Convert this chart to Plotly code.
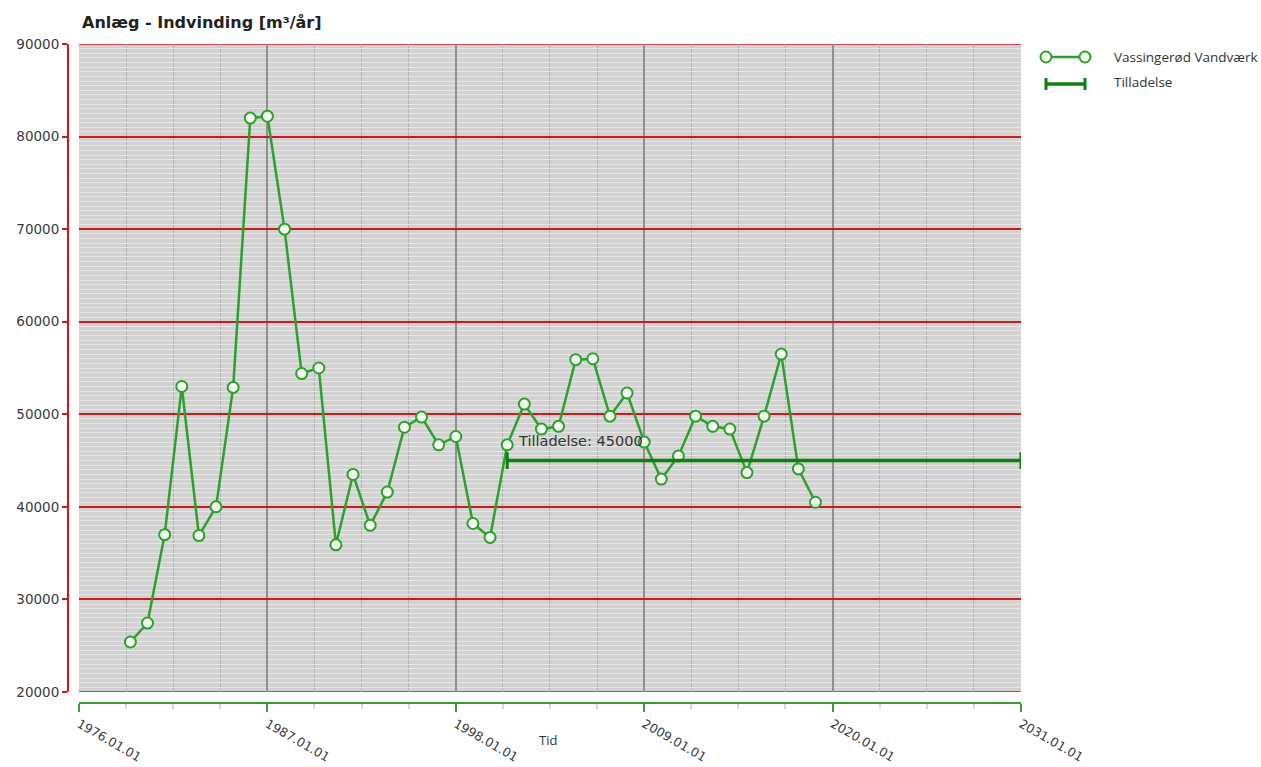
import plotly.graph_objects as go

# ---- data ----
years = list(range(1979, 2020))
dates = [f"{y}-01-01" for y in years]
indvinding = [25400, 27450, 37000, 53000, 36900, 40000, 52900, 82000, 82200, 70000,
              54400, 55000, 35900, 43500, 38000, 41600, 48600, 49700, 46700, 47600,
              38200, 36700, 46700, 51100, 48400, 48700, 55900, 56000, 49800, 52300,
              47000, 43000, 45500, 49800, 48700, 48400, 43700, 49800, 56500, 44100,
              40500]
permit_dates = ["2001-01-01", "2031-01-01"]
permit_value = 45000
series_name = "Vassingerød Vandværk"
permit_name = "Tilladelse"
title_text = "Anlæg - Indvinding [m³/år]"

W, H = 1261, 767
ML, MR, MT, MB = 68, 240, 44, 64
PW = W - ML - MR
PH = H - MT - MB


def px(x):
    return (x - ML) / PW


def py(y):
    return (H - MB - y) / PH


LINE_GREEN = "#2ea02e"
PERMIT_GREEN = "#0e800e"
RED = "#cc1a1a"

fig = go.Figure()
fig.add_trace(go.Scatter(
    x=dates, y=indvinding, name=series_name, mode="lines+markers",
    line=dict(color=LINE_GREEN, width=2.5),
    marker=dict(symbol="circle", size=11, color="#f2fdee",
                line=dict(color=LINE_GREEN, width=2)),
    showlegend=False,
))
fig.add_trace(go.Scatter(
    x=permit_dates, y=[permit_value] * len(permit_dates), name=permit_name,
    mode="lines+markers",
    line=dict(color=PERMIT_GREEN, width=3.5),
    marker=dict(symbol="line-ns", size=12, line=dict(color=PERMIT_GREEN, width=3)),
    showlegend=False,
))

fig.add_annotation(
    x=permit_dates[0], y=permit_value, xref="x", yref="y",
    text=f"{permit_name}: {permit_value}", showarrow=False,
    xanchor="left", yanchor="bottom", xshift=9, yshift=10,
    font=dict(family="DejaVu Sans", size=14.5, color="#333333"),
)

shapes = []
for yv in (20000, 90000):
    shapes.append(dict(type="line", xref="x domain", yref="y", x0=0, x1=1, y0=yv, y1=yv,
                       line=dict(color=RED, width=1.5), layer="below"))

# custom legend glyphs
ly1, ly2 = 57, 84
lx0, lx1 = 1046, 1085
shapes.append(dict(type="line", xref="paper", yref="paper", x0=px(lx0), x1=px(lx1),
                   y0=py(ly1), y1=py(ly1), line=dict(color=LINE_GREEN, width=2.5)))
for cx in (lx0, lx1):
    shapes.append(dict(type="circle", xref="paper", yref="paper",
                       x0=px(cx - 5.5), x1=px(cx + 5.5), y0=py(ly1 + 5.5), y1=py(ly1 - 5.5),
                       fillcolor="#f2fdee", line=dict(color=LINE_GREEN, width=2)))
shapes.append(dict(type="line", xref="paper", yref="paper", x0=px(lx0), x1=px(lx1),
                   y0=py(ly2), y1=py(ly2), line=dict(color=PERMIT_GREEN, width=3.5)))
for cx in (lx0, lx1):
    shapes.append(dict(type="line", xref="paper", yref="paper", x0=px(cx), x1=px(cx),
                       y0=py(ly2 - 6), y1=py(ly2 + 6), line=dict(color=PERMIT_GREEN, width=3)))

for txt, yy in ((series_name, ly1), (permit_name, ly2 - 2)):
    fig.add_annotation(x=px(1112), y=py(yy), xref="paper", yref="paper", text=txt,
                       showarrow=False, xanchor="left", yanchor="middle",
                       font=dict(family="Open Sans", size=13.5, color="#333333"))

fig.add_annotation(x=px(80), y=py(22), xref="paper", yref="paper", text=f"<b>{title_text}</b>",
                   showarrow=False, xanchor="left", yanchor="middle",
                   font=dict(family="DejaVu Sans", size=16, color="#222222"))
fig.add_annotation(x=px(548), y=py(740), xref="paper", yref="paper", text="Tid",
                   showarrow=False, xanchor="center", yanchor="middle",
                   font=dict(family="Open Sans", size=13, color="#333333"))

fig.update_layout(
    width=W, height=H,
    margin=dict(l=ML, r=MR, t=MT, b=MB, pad=0, autoexpand=False),
    paper_bgcolor="white", plot_bgcolor="#d2d2d2",
    font=dict(family="DejaVu Sans", size=13, color="#444444"),
    shapes=shapes,
    xaxis=dict(
        type="date", range=["1976-01-01", "2031-01-01"], domain=[11 / PW, 1],
        tick0="1976-01-01", dtick="M132", tickformat="%Y.%m.%d", tickangle=30,
        showline=True, linecolor="#3c9c3c", linewidth=2,
        ticks="outside", ticklen=8, tickwidth=2, tickcolor="#3c9c3c",
        showgrid=True, gridcolor="#909090", gridwidth=1.5,
        anchor="free", position=0, zeroline=False, automargin=False,
        tickfont=dict(family="DejaVu Sans", size=12.5, color="#3a3a3a"),
        minor=dict(dtick="M33", tick0="1976-01-01", showgrid=True, gridcolor="#b4b4b4",
                   gridwidth=1, ticks="outside", ticklen=5, tickcolor="#c8e4c8"),
    ),
    yaxis=dict(
        range=[20000, 90000], domain=[11 / PH, 1], tick0=0, dtick=10000, tickformat="d",
        showline=True, linecolor=RED, linewidth=2,
        ticks="outside", ticklen=5, tickwidth=2, tickcolor=RED,
        showgrid=True, gridcolor=RED, gridwidth=1.5,
        anchor="free", position=0, zeroline=False, automargin=False,
        tickfont=dict(family="DejaVu Sans", size=13.5, color="#3a3a3a"),
        minor=dict(dtick=500, tick0=0, showgrid=True, gridcolor="#e6e6e6", gridwidth=1),
    ),
)

fig.write_html("out.html", config={"displayModeBar": False},
               post_script="document.body.style.margin='0';document.body.style.overflow='hidden';")
